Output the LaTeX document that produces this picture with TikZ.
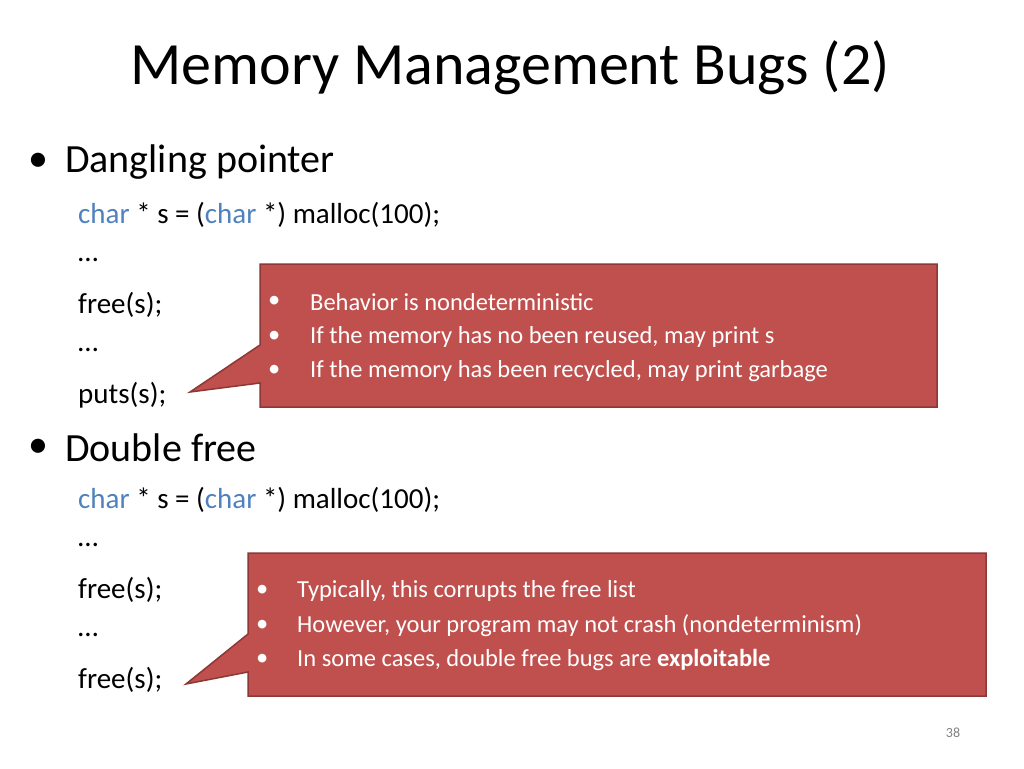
\documentclass[tikz,border=0pt]{standalone}
\usepackage{fontspec}
\setmainfont{Carlito}
\definecolor{calloutred}{RGB}{192,80,77}
\definecolor{calloutedge}{RGB}{140,56,54}
\definecolor{kwblue}{RGB}{79,129,189}
\tikzset{
  titletext/.style={font=\fontsize{60}{60}\selectfont},
  toptext/.style={anchor=west, inner sep=0pt, font=\fontsize{40}{40}\selectfont},
  codetext/.style={anchor=west, inner sep=0pt, font=\fontsize{29}{29}\selectfont},
  notetext/.style={anchor=west, inner sep=0pt, text=white, font=\fontsize{24.5}{24.5}\selectfont},
  callout/.style={fill=calloutred, draw=calloutedge, line width=1.5pt, line join=miter}
}
\newcommand{\kw}[1]{\textcolor{kwblue}{#1}}
\begin{document}
\begin{tikzpicture}[x=1pt, y=-1pt]
  \useasboundingbox (0,0) rectangle (1024,768);
  % Titel
  \node[titletext] (title) at (510,68) {Memory Management Bugs (2)};

  % Dangling pointer
  \node[toptext] (b1) at (28,162) {\textbullet};
  \node[toptext] (dangling) at (65,162) {Dangling pointer};
  \node[codetext] (d1) at (78,215) {\kw{char} * s = (\kw{char} *) malloc(100);};
  \node[codetext] (d2) at (78,260) {\dots};
  \node[codetext] (d3) at (78,305) {free(s);};
  \node[codetext] (d4) at (78,350) {\dots};
  \node[codetext] (d5) at (78,395) {puts(s);};

  % Double free
  \node[toptext] (b2) at (28,448) {\textbullet};
  \node[toptext] (double) at (65,448) {Double free};
  \node[codetext] (f1) at (78,500) {\kw{char} * s = (\kw{char} *) malloc(100);};
  \node[codetext] (f2) at (78,545) {\dots};
  \node[codetext] (f3) at (78,590) {free(s);};
  \node[codetext] (f4) at (78,635) {\dots};
  \node[codetext] (f5) at (78,680) {free(s);};

  % Sprechblase 1
  \draw[callout] (260,264) -- (937,264) -- (937,407) -- (260,407)
    -- (260,383) -- (190,392) -- (260,345) -- cycle;
  \node[notetext] (n1a) at (268,302) {\textbullet};
  \node[notetext] (n1b) at (268,337) {\textbullet};
  \node[notetext] (n1c) at (268,371) {\textbullet};
  \node[notetext] (t1a) at (310,302) {Behavior is nondeterministic};
  \node[notetext] (t1b) at (310,337) {If the memory has no been reused, may print s};
  \node[notetext] (t1c) at (310,371) {If the memory has been recycled, may print garbage};

  % Sprechblase 2
  \draw[callout] (248,553) -- (986,553) -- (986,696) -- (248,696)
    -- (248,672) -- (186,684) -- (248,634) -- cycle;
  \node[notetext] (n2a) at (256,591) {\textbullet};
  \node[notetext] (n2b) at (256,626) {\textbullet};
  \node[notetext] (n2c) at (256,660) {\textbullet};
  \node[notetext] (t2a) at (297,591) {Typically, this corrupts the free list};
  \node[notetext] (t2b) at (297,626) {However, your program may not crash (nondeterminism)};
  \node[notetext] (t2c) at (297,660) {In some cases, double free bugs are \textbf{exploitable}};

  % Seitenzahl
  \node[text=gray, font=\fontsize{14}{14}\selectfont] (page) at (953,733) {38};
\end{tikzpicture}
\end{document}
